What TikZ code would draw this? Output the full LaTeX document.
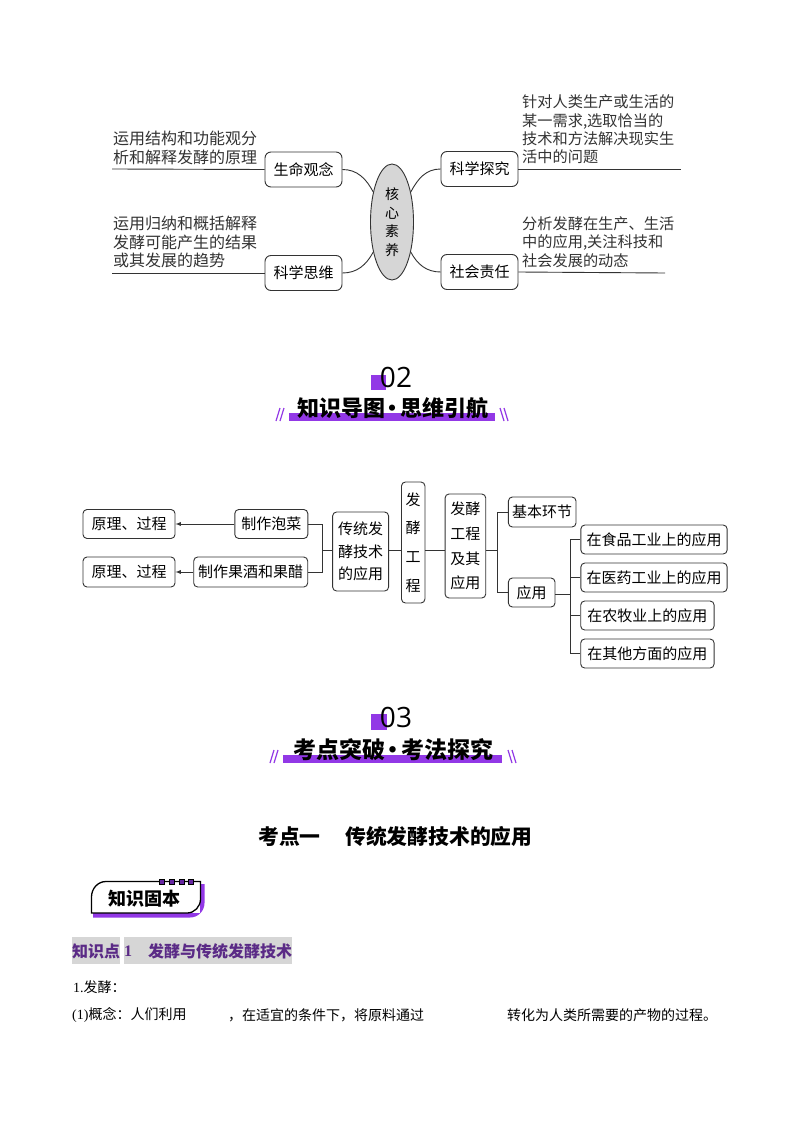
\documentclass[tikz,border=0pt]{standalone}
\usepackage{fontspec}
\setmainfont{Noto Sans CJK SC}
\newfontfamily\numfont{Open Sans}
\newfontfamily\serifnum{Liberation Serif}
\usetikzlibrary{positioning}
\usetikzlibrary{shapes.geometric}
\definecolor{barpurple}{HTML}{9238E6}
\definecolor{headpurple}{HTML}{5A2A86}
\definecolor{linegray}{HTML}{333333}
\definecolor{bandgray}{HTML}{D6D6D6}
\newcommand{\zhsize}[2]{\fontsize{#1}{#2}\selectfont}
\newcommand{\tightdot}{\kern-3.5pt·\kern-3.5pt}
\tikzset{
  corebox/.style={draw=linegray,line width=0.9pt,rounded corners=6pt,inner sep=0pt,align=center,minimum width=77pt,minimum height=35pt,font=\zhsize{15}{18}},
  mapbox/.style={draw=linegray,line width=0.9pt,rounded corners=4pt,inner sep=0pt,align=center,font=\zhsize{15}{22.7}},
  notetext/.style={inner sep=0pt,align=left,anchor=west,text=linegray,font=\zhsize{15.2}{18.3}},
  linkline/.style={draw=linegray,line width=0.9pt},
  titletext/.style={inner sep=0pt,font=\zhsize{22}{24}\bfseries},
  bodytext/.style={inner sep=0pt,anchor=west,font=\zhsize{14}{16}},
  bandtext/.style={inner sep=0pt,anchor=west,text=headpurple,font=\zhsize{16}{18}\bfseries}
}
\begin{document}
\begin{tikzpicture}[x=1pt,y=-1pt]
\useasboundingbox[fill=white] (0,0) rectangle (794,1123);
% core literacy map
\path
(392,222) node [shape=ellipse,draw=linegray,fill=bandgray,line width=0.9pt,inner sep=0pt,minimum width=43pt,minimum height=116pt,align=center,font=\zhsize{14}{18.5}](core) {核\\心\\素\\养}
(303.5,169.5) node [corebox](life) {生命观念}
(479.5,169) node [corebox](inquiry) {科学探究}
(303.5,273) node [corebox](thinking) {科学思维}
(479.5,272) node [corebox](duty) {社会责任}
(113,148) node [notetext,font=\zhsize{16}{18.3}](lifenote) {运用结构和功能观分\\析和解释发酵的原理}
(522,129.5) node [notetext](inquirynote) {针对人类生产或生活的\\某一需求,选取恰当的\\技术和方法解决现实生\\活中的问题}
(113,242) node [notetext,font=\zhsize{16}{18.3}](thinknote) {运用归纳和概括解释\\发酵可能产生的结果\\或其发展的趋势}
(522,242) node [notetext](dutynote) {分析发酵在生产、生活\\中的应用,关注科技和\\社会发展的动态};
\coordinate (lifeend) at (112,169);
\coordinate (inquiryend) at (681,169);
\coordinate (thinkend) at (112,273);
\coordinate (dutyend) at (665,273);
\draw [linkline](life.west) --(lifeend);
\draw [linkline](inquiry.east) --(inquiryend);
\draw [linkline](thinking.west) --(thinkend);
\draw [linkline](duty.east) --(dutyend);
\draw [linkline](life.east) to[out=0,in=118] (core.122);
\draw [linkline](inquiry.west) to[out=180,in=62] (core.58);
\draw [linkline](thinking.east) to[out=0,in=242] (core.238);
\draw [linkline](duty.west) to[out=180,in=298] (core.302);
% section 02
\fill [barpurple] (371,375) rectangle (386,390);
\fill [barpurple] (289,413) rectangle (495,421);
\draw [barpurple,line width=1.2pt] (276,421) --(280,408) (280,421) --(284,408) (500,408) --(504,421) (504,408) --(508,421);
\path
(396,377) node [inner sep=0pt,font=\zhsize{28}{32}\numfont](num2) {02}
(392.5,408) node [titletext](title2) {知识导图\tightdot 思维引航};
% concept map
\path
(129,524) node [mapbox,minimum width=92pt,minimum height=29pt](yuan1) {原理、过程}
(129,572) node [mapbox,minimum width=92pt,minimum height=30pt](yuan2) {原理、过程}
(271.3,524) node [mapbox,minimum width=73pt,minimum height=29pt](paocai) {制作泡菜}
(250.7,572) node [mapbox,minimum width=114pt,minimum height=30pt](guojiu) {制作果酒和果醋}
(360.6,551.5) node [mapbox,minimum width=56pt,minimum height=79pt](chuantong) {传统发\\酵技术\\的应用}
(413.2,542.5) node [mapbox,minimum width=23.5pt,minimum height=121pt,font=\zhsize{15}{28.6}](gongcheng) {发\\酵\\工\\程}
(465.4,546) node [mapbox,minimum width=40.7pt,minimum height=104pt,font=\zhsize{15}{24.7}](jiqi) {发酵\\工程\\及其\\应用}
(542.2,512) node [mapbox,minimum width=67.6pt,minimum height=30pt](jiben) {基本环节}
(531.7,592.5) node [mapbox,minimum width=46.6pt,minimum height=29pt](yingyong) {应用}
(654,539.5) node [mapbox,minimum width=146.3pt,minimum height=29pt](shipin) {在食品工业上的应用}
(654,577.5) node [mapbox,minimum width=146.3pt,minimum height=29pt](yiyao) {在医药工业上的应用}
(647.4,615.5) node [mapbox,minimum width=133.4pt,minimum height=29pt](nongmu) {在农牧业上的应用}
(647.4,653.5) node [mapbox,minimum width=133.4pt,minimum height=29pt](qita) {在其他方面的应用};
\coordinate (leftbus) at (322,550);
\coordinate (midbus) at (497.7,550);
\coordinate (rightbus) at (570.4,594);
\draw [linkline,-latex](paocai) --(yuan1);
\draw [linkline,-latex](guojiu) --(yuan2);
\draw [linkline](paocai.east) -|(leftbus);
\draw [linkline](guojiu.east) -|(leftbus);
\draw [linkline](leftbus) --(leftbus -| chuantong.west);
\draw [linkline](leftbus -| chuantong.east) --(leftbus -| gongcheng.west);
\draw [linkline](leftbus -| gongcheng.east) --(leftbus -| jiqi.west);
\draw [linkline](midbus -| jiqi.east) --(midbus);
\draw [linkline](jiben.west) -|(midbus);
\draw [linkline](yingyong.west) -|(midbus);
\draw [linkline](rightbus -| yingyong.east) --(rightbus);
\draw [linkline](shipin.west) -|(rightbus);
\draw [linkline](yiyao.west) -|(rightbus);
\draw [linkline](nongmu.west) -|(rightbus);
\draw [linkline](qita.west) -|(rightbus);
% section 03
\fill [barpurple] (371,714) rectangle (387,730);
\fill [barpurple] (283,755) rectangle (502,763);
\draw [barpurple,line width=1.2pt] (270,763) --(274,750) (274,763) --(278,750) (508,750) --(512,763) (512,750) --(516,763);
\path
(396,717) node [inner sep=0pt,font=\zhsize{28}{32}\numfont](num3) {03}
(393,750) node [titletext,font=\zhsize{23}{26}\bfseries](title3) {考点突破\tightdot 考法探究}
(258,837) node [inner sep=0pt,anchor=west,font=\zhsize{20.8}{24}\bfseries](pointa) {考点一}
(345,837) node [inner sep=0pt,anchor=west,font=\zhsize{20.8}{24}\bfseries](pointb) {传统发酵技术的应用};
% badge
\fill [barpurple] (93,913) -- (93,917.5) -- (190,917.5) to[out=0,in=270] (204.5,903) -- (204.5,884) -- (200,884) -- (200,913) -- cycle;
\draw [black,line width=1.3pt] (91.5,913) -- (91.5,897) to[out=90,in=180] (106,881.5) -- (200.5,881.5) -- (200.5,899) to[out=270,in=0] (187,913) -- cycle;
\foreach \dotx in {162,172,182,191} \filldraw [fill=barpurple!70!black,draw=black,line width=0.6pt] (\dotx-2.5,879.5) rectangle (\dotx+2.5,884.5);
\path (144,898.5) node [inner sep=0pt,font=\zhsize{18}{20}\bfseries](badge) {知识固本};
% knowledge heading
\fill [bandgray] (72,937) rectangle (120,964);
\fill [bandgray] (124,937) rectangle (292,964);
\path
(72,951) node [bandtext](banda) {知识点}
(124,951) node [bandtext,font=\zhsize{16}{18}\bfseries\serifnum](bandb) {1}
(148,951) node [bandtext](bandc) {发酵与传统发酵技术}
(73,987) node [bodytext](linea) {{\serifnum 1.}发酵：}
(72,1015) node [bodytext](lineb) {{\serifnum (1)}概念：人们利用}
(228,1015) node [bodytext](linec) {，在适宜的条件下，将原料通过}
(507,1015) node [bodytext](lined) {转化为人类所需要的产物的过程。};
\end{tikzpicture}
\end{document}
